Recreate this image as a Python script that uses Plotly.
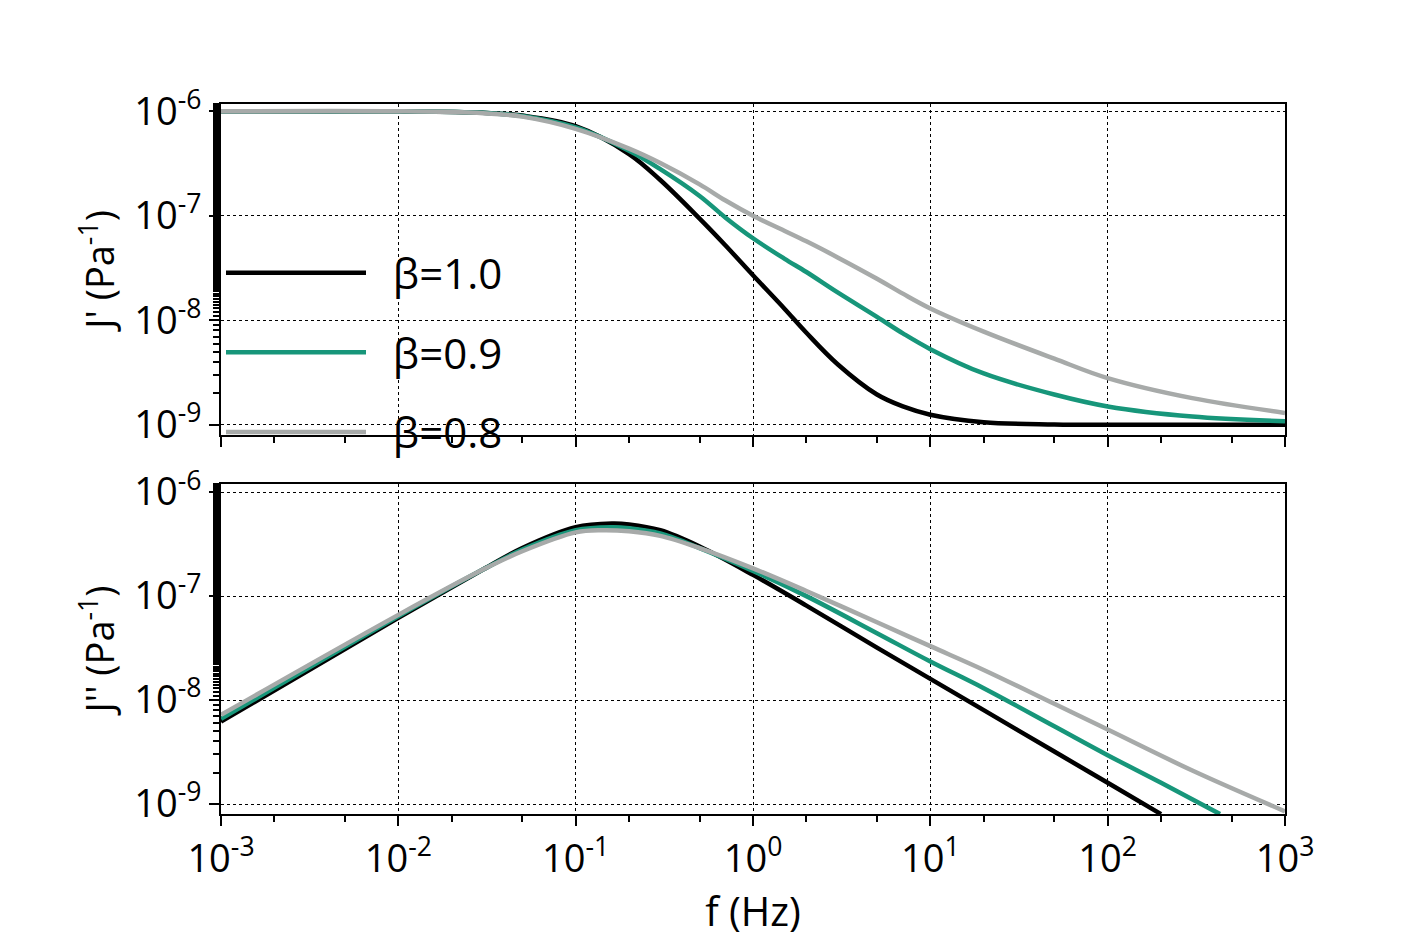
import plotly.graph_objects as go
from plotly.subplots import make_subplots

# frequencies (Hz) and compliances
f_p = [0.001, 0.01, 0.03, 0.05, 0.1, 0.2, 0.3, 0.5, 0.7, 1, 1.5, 2, 3, 5, 7, 10, 20, 50, 100, 300, 1000]
jp_b10 = [1e-6, 1e-6, 0.97e-6, 0.91e-6, 0.72e-6, 0.39e-6, 0.22e-6, 0.094e-6, 5.2e-8, 2.7e-8,
          1.3e-8, 7.6e-9, 3.8e-9, 1.95e-9, 1.5e-9, 1.25e-9, 1.06e-9, 1.01e-9, 1.0e-9, 1.0e-9, 1.0e-9]
jp_b09 = [1e-6, 1e-6, 0.97e-6, 0.9e-6, 0.7e-6, 0.42e-6, 0.28e-6, 0.155e-6, 9.6e-8, 6.1e-8,
          3.9e-8, 2.9e-8, 1.85e-8, 1.08e-8, 7.5e-9, 5.3e-9, 3.1e-9, 1.95e-9, 1.5e-9, 1.2e-9, 1.08e-9]
jp_b08 = [1e-6, 1e-6, 0.96e-6, 0.89e-6, 0.68e-6, 0.44e-6, 0.32e-6, 0.2e-6, 1.4e-7, 1.0e-7,
          7.2e-8, 5.7e-8, 4.0e-8, 2.5e-8, 1.8e-8, 1.3e-8, 7.8e-9, 4.3e-9, 2.8e-9, 1.8e-9, 1.3e-9]

f_b10 = [0.001, 0.01, 0.03, 0.05, 0.1, 0.16, 0.2, 0.3, 0.5, 1, 2, 5, 10, 20, 50, 100, 200]
jpp_b10 = [6.2e-9, 6.2e-8, 1.8e-7, 2.9e-7, 4.6e-7, 5.0e-7, 4.9e-7, 4.3e-7, 3.0e-7, 1.6e-7,
           8.1e-8, 3.2e-8, 1.6e-8, 8e-9, 3.2e-9, 1.6e-9, 8e-10]
f_b09 = [0.001, 0.01, 0.03, 0.05, 0.1, 0.16, 0.2, 0.3, 0.5, 1, 2, 5, 10, 20, 50, 100, 200, 430]
jpp_b09 = [6.6e-9, 6.4e-8, 1.8e-7, 2.8e-7, 4.3e-7, 4.6e-7, 4.5e-7, 4.0e-7, 2.9e-7, 1.75e-7,
           1e-7, 4.4e-8, 2.35e-8, 1.3e-8, 5.6e-9, 2.95e-9, 1.6e-9, 8e-10]
f_b08 = [0.001, 0.01, 0.03, 0.05, 0.1, 0.14, 0.2, 0.3, 0.5, 1, 2, 5, 10, 20, 50, 100, 300, 1000]
jpp_b08 = [7.2e-9, 6.6e-8, 1.8e-7, 2.7e-7, 4.1e-7, 4.3e-7, 4.2e-7, 3.8e-7, 2.9e-7, 1.85e-7,
           1.12e-7, 5.6e-8, 3.3e-8, 1.95e-8, 9.2e-9, 5.2e-9, 2.1e-9, 8.5e-10]

labels = ["  β=1.0", "  β=0.9", "  β=0.8"]
colors = ["#000000", "#17967a", "#a7aaa9"]

xtv = [1e-3, 1e-2, 1e-1, 1, 10, 100, 1000]
xtt = ["10<sup>-3</sup>", "10<sup>-2</sup>", "10<sup>-1</sup>", "10<sup>0</sup>",
       "10<sup>1</sup>", "10<sup>2</sup>", "10<sup>3</sup>"]
ytv = [1e-9, 1e-8, 1e-7, 1e-6]
ytt = ["10<sup>-9</sup>", "10<sup>-8</sup>", "10<sup>-7</sup>", "10<sup>-6</sup>"]

fig = make_subplots(rows=2, cols=1, shared_xaxes=True)
for i, (y, lab, c) in enumerate(zip([jp_b10, jp_b09, jp_b08], labels, colors)):
    fig.add_trace(go.Scatter(x=f_p, y=y, name=lab, mode="lines", line_shape="spline",
                             legendgroup=str(i), line=dict(color=c, width=4.5)), row=1, col=1)
for x, y, c in zip([f_b10, f_b09, f_b08], [jpp_b10, jpp_b09, jpp_b08], colors):
    fig.add_trace(go.Scatter(x=x, y=y, mode="lines", showlegend=False, line_shape="spline",
                             line=dict(color=c, width=4.5)), row=2, col=1)

ax = dict(type="log", showline=True, linecolor="black", linewidth=2,
          mirror=True, ticks="outside", ticklen=10, tickwidth=2, tickcolor="black",
          showgrid=True, gridcolor="black", griddash="dot", gridwidth=1,
          minor=dict(ticks="outside", ticklen=6, tickcolor="black", showgrid=False),
          tickfont=dict(size=38), zeroline=False)

fig.update_xaxes(**ax, range=[-3, 3], tickvals=xtv, ticktext=xtt)
fig.update_xaxes(showticklabels=False, row=1, col=1)
fig.update_xaxes(title=dict(text="f (Hz)", font=dict(size=40), standoff=2), row=2, col=1)
fig.update_yaxes(**ax, tickvals=ytv, ticktext=ytt)
fig.update_yaxes(range=[-9.096, -5.93], domain=[0.534, 1.0],
                 title=dict(text="J' (Pa<sup>-1</sup>)", font=dict(size=38), standoff=8), row=1, col=1)
fig.update_yaxes(range=[-9.096, -5.92], domain=[0.0, 0.465],
                 title=dict(text="J'' (Pa<sup>-1</sup>)", font=dict(size=38), standoff=8), row=2, col=1)

fig.update_layout(
    width=1420, height=948,
    margin=dict(l=213, r=143, t=96, b=142),
    plot_bgcolor="white", paper_bgcolor="white",
    font=dict(family="Open Sans, DejaVu Sans", color="black"),
    legend=dict(x=0.0, y=0.81, xanchor="left", yanchor="top", font=dict(size=42),
                bgcolor="rgba(255,255,255,0)", itemwidth=140, tracegroupgap=22),
)
fig.write_html("out.html")
